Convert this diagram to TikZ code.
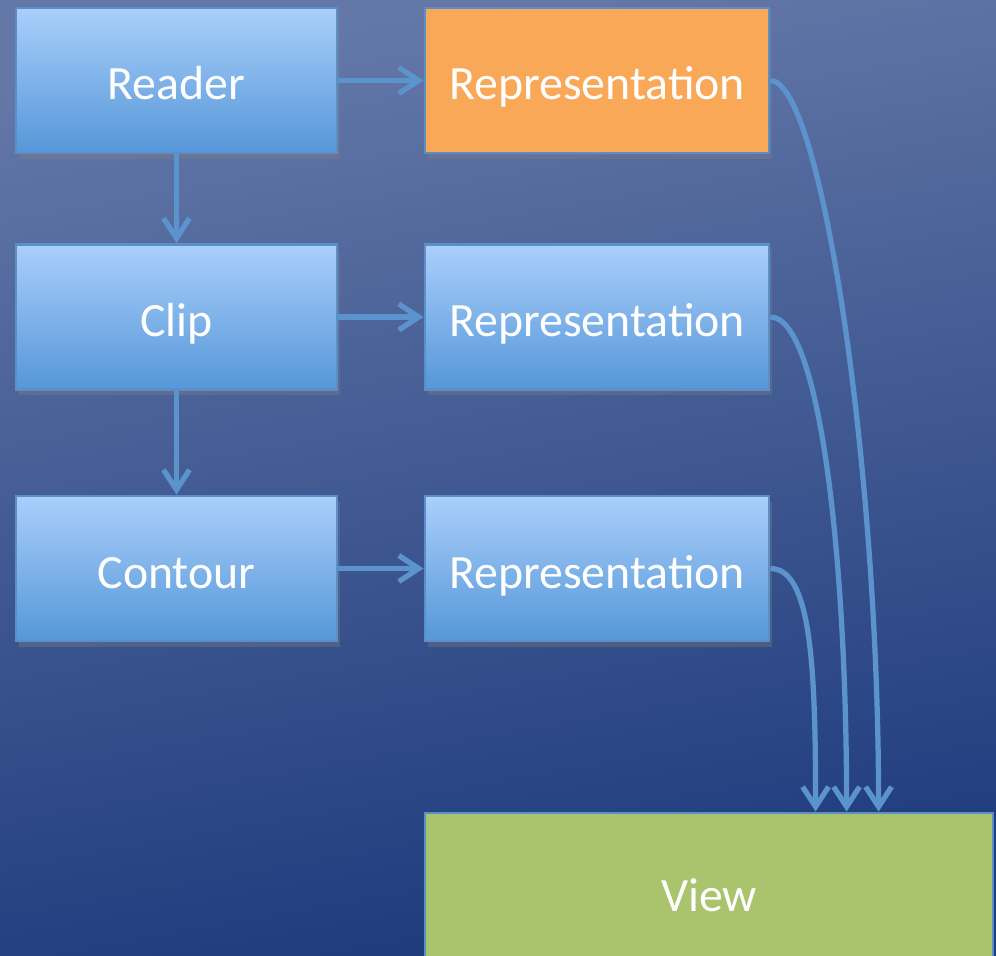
\documentclass[tikz,border=0pt]{standalone}
\usepackage{fontspec}
\setmainfont{Carlito}
\usetikzlibrary{arrows.meta,shadows}

\definecolor{bgtop}{HTML}{6478A8}
\definecolor{bgbottom}{HTML}{1D3A7C}
\definecolor{boxtop}{HTML}{AACFFB}
\definecolor{boxbottom}{HTML}{5597D8}
\definecolor{boxline}{HTML}{5B8FC9}
\definecolor{reporange}{HTML}{F9A857}
\definecolor{viewgreen}{HTML}{A9C46C}
\definecolor{flow}{HTML}{5B93CC}

\tikzset{
	filterbox/.style={draw=boxline, line width=0.8pt, top color=boxtop, bottom color=boxbottom,
		minimum width=3.21cm, minimum height=1.45cm, text=white, font=\fontsize{13.6}{16}\selectfont,
		text height=3.9mm, text depth=0pt,
		drop shadow={shadow xshift=0.3mm, shadow yshift=-0.6mm, opacity=0.35}},
	repbox/.style={filterbox, minimum width=3.44cm},
	flowline/.style={draw=flow, line width=1.5pt, -{Straight Barb[length=2mm,width=2.6mm,line width=1.5pt]}}
}

\begin{document}
\begin{tikzpicture}
	\shade[top color=bgtop, bottom color=bgbottom, shading angle=10] (0,0) rectangle (9.96,9.55);
	\clip (0,0) rectangle (9.96,9.55);

	\node[filterbox] (reader) at (1.765,8.745) {Reader};
	\node[filterbox] (clip) at (1.765,6.38) {Clip};
	\node[filterbox] (contour) at (1.765,3.865) {Contour};

	\node[repbox, top color=reporange, bottom color=reporange] (rep_reader) at (5.97,8.745) {Representation};
	\node[repbox] (rep_clip) at (5.97,6.38) {Representation};
	\node[repbox] (rep_contour) at (5.97,3.865) {Representation};

	\node[draw=boxline, line width=0.8pt, fill=viewgreen, text=white, font=\fontsize{13.6}{16}\selectfont,
		text height=3.9mm, text depth=0pt,
		minimum width=5.68cm, minimum height=1.57cm] (view) at (7.09,0.635) {View};

	% pipeline
	\draw[flowline] (reader) -- (clip);
	\draw[flowline] (clip) -- (contour);
	\draw[flowline] (reader) -- (rep_reader);
	\draw[flowline] (clip) -- (rep_clip);
	\draw[flowline] (contour) -- (rep_contour);

	% representations into the view
	\coordinate (in_reader) at ([xshift=4.55cm]view.north west);
	\coordinate (in_clip) at ([xshift=4.23cm]view.north west);
	\coordinate (in_contour) at ([xshift=3.92cm]view.north west);
	\draw[flowline] (rep_reader.east) .. controls +(0.5,0) and +(0,3.5) .. (in_reader);
	\draw[flowline] (rep_clip.east) .. controls +(0.5,0) and +(0,2.5) .. (in_clip);
	\draw[flowline] (rep_contour.east) .. controls +(0.4,0) and +(0,1.5) .. (in_contour);
\end{tikzpicture}
\end{document}
